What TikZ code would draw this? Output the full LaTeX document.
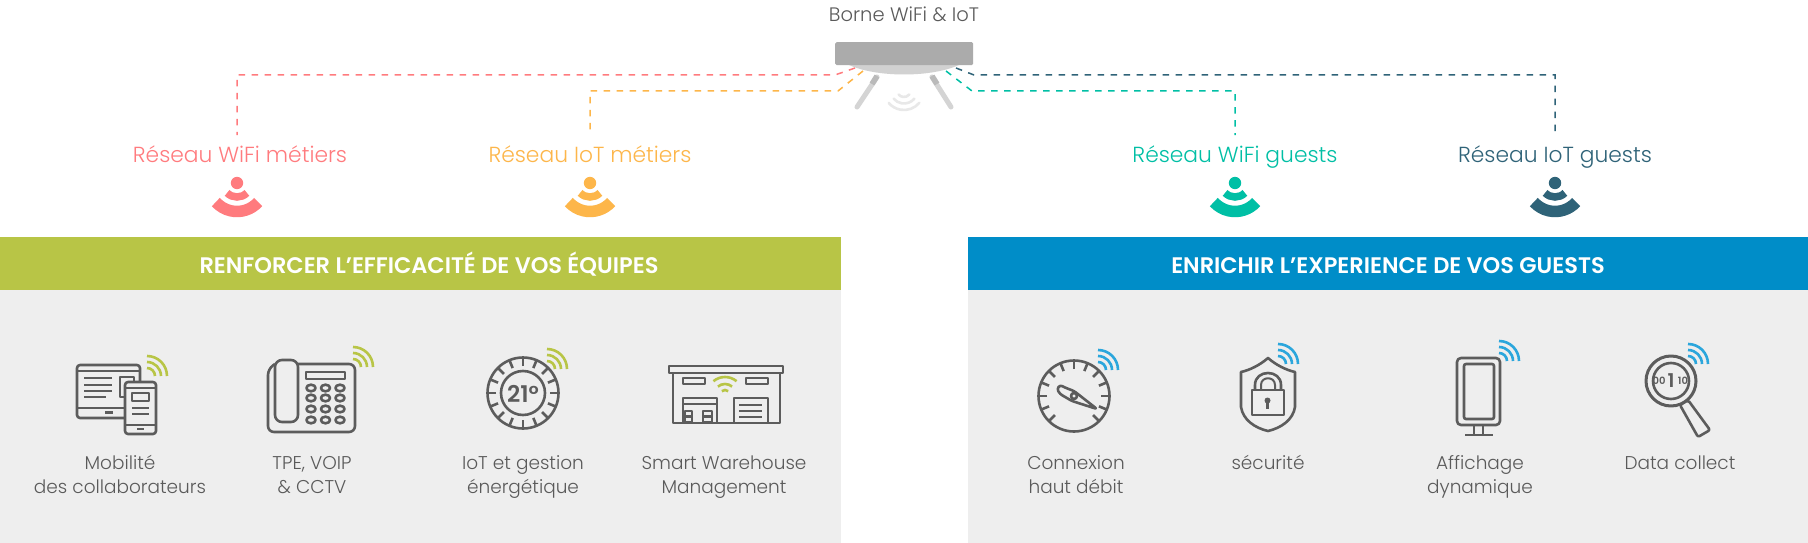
\documentclass[tikz,border=0pt]{standalone}
\usepackage{fontspec}
\setmainfont{Poppins}[UprightFont=* Light,BoldFont=* SemiBold]
\definecolor{cpink}{HTML}{FF7B7E}
\definecolor{corange}{HTML}{FDB64A}
\definecolor{cteal}{HTML}{00BFA5}
\definecolor{cdark}{HTML}{2F6378}
\definecolor{cgreen}{HTML}{B8C546}
\definecolor{cblue}{HTML}{008DC8}
\definecolor{cwifi}{HTML}{2BA6DC}
\definecolor{cpanel}{HTML}{EEEEEE}
\definecolor{ctext}{HTML}{5A5A5A}
\definecolor{cicon}{HTML}{5C5C5C}
\tikzset{
 x=1pt,y=-1pt,
 dashline/.style={line width=1.5pt,dash pattern=on 6.5pt off 6.5pt},
 netlabel/.style={font=\fontsize{21.8}{24}\selectfont,anchor=base,inner sep=0pt},
 itemlabel/.style={font=\fontsize{18.5}{24}\selectfont,text=ctext,align=center,anchor=base,inner sep=0pt},
 bandlabel/.style={font=\fontsize{22.5}{24}\selectfont\bfseries,text=white,anchor=base,inner sep=0pt},
 ic/.style={draw=cicon,line width=2.6pt,line join=round},
 tk/.style={draw=cicon,line width=2.6pt},
 wf/.style={line width=2.6pt},
}
\newcommand{\minew}[3]{% small quarter wifi
 \foreach \r in {8,14,20}{\draw[wf,#3] (#1,#2)++(0:\r) arc[start angle=0,end angle=-90,radius=\r];}}
\newcommand{\bigwifi}[3]{% network marker
 \fill[#3] (#1,#2) circle (6.2);
 \draw[#3,line width=7.5pt] (#1,#2)++(45:14) arc[start angle=45,end angle=135,radius=14];
 \draw[#3,line width=11.5pt] (#1,#2)++(42:28.5) arc[start angle=42,end angle=138,radius=28.5];}
\begin{document}
\begin{tikzpicture}
\useasboundingbox (0,0) rectangle (1808,543);
\fill[white] (0,0) rectangle (1808,543);
% panels
\fill[cpanel] (0,290) rectangle (841,543);
\fill[cpanel] (968,290) rectangle (1808,543);
\node[fill=cgreen,minimum width=841pt,minimum height=53pt,inner sep=0pt,anchor=north west] (bandL) at (0,237) {};
\node[fill=cblue,minimum width=840pt,minimum height=53pt,inner sep=0pt,anchor=north west] (bandR) at (968,237) {};
\node[bandlabel] (bandLt) at (429,273) {RENFORCER L’EFFICACITÉ DE VOS ÉQUIPES};
\node[bandlabel] (bandRt) at (1388,273) {ENRICHIR L’EXPERIENCE DE VOS GUESTS};
% device
\node[itemlabel,font=\fontsize{19.5}{22}\selectfont] (borne) at (904,22) {Borne WiFi \& IoT};
\draw[line width=5pt,line cap=round,color=black!17] (877,77) -- (857,107);
\draw[line width=5pt,line cap=round,color=black!17] (932,77) -- (951,107);
\draw[line width=5.5pt,color=black!27] (877,76) -- (872,84);
\draw[line width=5.5pt,color=black!27] (932,76) -- (937,84);
\fill[black!18] (847,64) .. controls (875,78) and (933,78) .. (961,64) -- cycle;
\node[fill=black!33,rounded corners=1.5pt,minimum width=138pt,minimum height=23pt,inner sep=0pt,anchor=north west] (device) at (835,42) {};
\foreach \r in {7,13.5,20}{\draw[black!9,line width=2.6pt,line cap=round] (904,90)++(40:\r) arc[start angle=40,end angle=140,radius=\r];}
% labels
\node[netlabel,text=cpink] (lpink) at (240,162) {Réseau WiFi métiers};
\node[netlabel,text=corange] (lorange) at (590,162) {Réseau IoT métiers};
\node[netlabel,text=cteal] (lteal) at (1235,162) {Réseau WiFi guests};
\node[netlabel,text=cdark] (ldark) at (1555,162) {Réseau IoT guests};
% connectors
\coordinate (pA) at (855,68); \coordinate (pB) at (835,75); \coordinate (pC) at (237,75); \coordinate (pD) at (237,135);
\coordinate (oA) at (863,71); \coordinate (oB) at (838,91); \coordinate (oC) at (590,91); \coordinate (oD) at (590,135);
\coordinate (tA) at (946,71); \coordinate (tB) at (972,91); \coordinate (tC) at (1235,91); \coordinate (tD) at (1235,135);
\coordinate (dA) at (956,68); \coordinate (dB) at (974,75); \coordinate (dC) at (1555,75); \coordinate (dD) at (1555,135);
\draw[dashline,cpink] (pA) -- (pB) -- (pC) -- (pD);
\draw[dashline,corange] (oA) -- (oB) -- (oC) -- (oD);
\draw[dashline,cteal] (tA) -- (tB) -- (tC) -- (tD);
\draw[dashline,cdark] (dA) -- (dB) -- (dC) -- (dD);
\bigwifi{237}{183}{cpink}
\bigwifi{590}{183}{corange}
\bigwifi{1235}{183}{cteal}
\bigwifi{1555}{183}{cdark}
% --- mobility
\draw[ic,rounded corners=3pt] (77,365) rectangle (140,418);
\draw[ic] (77,371) -- (140,371) (77,408) -- (125,408);
\draw[ic] (105,412.5) -- (113,412.5);
\draw[ic] (84,378) -- (112,378) (84,385) -- (112,385) (84,391) -- (112,391) (84,397) -- (106,397);
\draw[ic] (125,397) -- (120,397) -- (120,377) -- (134,377) -- (134,382);
\draw[ic,fill=cpanel,rounded corners=3pt] (125,382) rectangle (156,434);
\draw[ic] (125,388) -- (156,388) (125,425) -- (156,425);
\draw[ic] (137,429) -- (144,429);
\draw[ic] (132,393) rectangle (149,401);
\draw[ic] (132,408) -- (149,408) (132,414) -- (149,414);
\minew{147}{376}{cgreen}
\node[itemlabel] (t1) at (120,493) {Mobilité\\des collaborateurs};
% --- phone
\draw[ic,rounded corners=6pt] (275,364) -- (268,369) -- (268,432) -- (355,432) -- (355,364) -- (298,364);
\draw[ic,rounded corners=7pt] (275,360) rectangle (298,422);
\draw[ic] (306,372) rectangle (345,379);
\foreach \cx in {311,325.5,340}{\foreach \cy in {388,398,409,420}{\draw[ic] (\cx,\cy) ellipse (4.6 and 3.3);}}
\minew{353}{367}{cgreen}
\node[itemlabel] (t2) at (312,493) {TPE, VOIP\\\& CCTV};
% --- thermostat
\draw[ic] (523,393) circle (35.5);
\draw[ic] (523,393) circle (22);
\foreach \a in {0,22.5,...,337.5}{\draw[tk] (523,393)++(\a:27) -- ++(\a:8);}
\node[inner sep=0pt,text=cicon,font=\fontsize{23}{23}\selectfont\bfseries] (th) at (523,393.5) {21°};
\minew{547}{369}{cgreen}
\node[itemlabel] (t3) at (523,493) {IoT et gestion\\énergétique};
% --- warehouse
\draw[ic] (669,366) rectangle (783,373);
\draw[ic] (673,373) -- (673,423) -- (780,423) -- (780,373);
\draw[ic] (683,378) rectangle (705,384);
\draw[ic] (746,378) rectangle (768,384);
\foreach \r in {5,11,18}{\draw[wf,cgreen] (725,395)++(-50:\r) arc[start angle=-50,end angle=-130,radius=\r];}
\draw[ic] (683,423) -- (683,398) -- (717,398) -- (717,423);
\draw[ic] (683,404) -- (717,404);
\draw[ic] (685,411) rectangle (692,422);
\draw[ic] (685,416.5) -- (692,416.5);
\draw[ic] (703,411) rectangle (712,422);
\draw[ic] (703,416.5) -- (712,416.5);
\draw[ic] (734,423) -- (734,398) -- (768,398) -- (768,423);
\draw[ic] (739,405) -- (762,405) (739,411) -- (762,411) (739,417) -- (762,417);
\node[itemlabel] (t4) at (724,493) {Smart Warehouse\\Management};
% --- gauge
\draw[ic] (1074,396) circle (35.5);
\foreach \a in {-225,-202.5,...,45}{\draw[tk] (1074,396)++(\a:27) -- ++(\a:8);}
\draw[ic,rounded corners=2.5pt] (1060,385) -- (1066,388) -- (1074,391) -- (1097,409) -- (1072,401) -- (1060,394) -- (1057,389) -- cycle;
\draw[ic,fill=cpanel] (1074,396) circle (3);
\minew{1098}{370}{cwifi}
\node[itemlabel] (t5) at (1076,493) {Connexion\\haut débit};
% --- shield
\draw[ic] (1268,358) .. controls (1260,365) and (1250,370) .. (1241,372) -- (1241,407) .. controls (1243,420) and (1255,428) .. (1268,431) .. controls (1281,428) and (1293,420) .. (1295,407) -- (1295,372) .. controls (1286,370) and (1276,365) .. (1268,358) -- cycle;
\draw[ic] (1252,390) rectangle (1284,415);
\draw[ic] (1255,390) -- (1255,385) .. controls (1255,369) and (1281,369) .. (1281,385) -- (1281,390);
\draw[ic,line width=2pt] (1261,390) -- (1261,385) .. controls (1261,376) and (1275,376) .. (1275,385) -- (1275,390);
\fill[cicon] (1267.5,400.5) circle (3);
\draw[ic] (1267.5,401) -- (1267.5,409);
\minew{1278}{364}{cwifi}
\node[itemlabel] (t6) at (1268,469) {sécurité};
% --- display
\draw[ic,rounded corners=4pt] (1457,358) rectangle (1500,425);
\draw[ic,rounded corners=2pt] (1464,364) rectangle (1494,419);
\draw[ic] (1474,425) -- (1474,435) (1483,425) -- (1483,435);
\draw[ic] (1465,435) -- (1493,435);
\minew{1499}{361}{cwifi}
\node[itemlabel] (t7) at (1480,493) {Affichage\\dynamique};
% --- magnifier
\draw[ic,line width=3pt] (1671,381) circle (25);
\draw[ic,line width=2.6pt] (1671,381) circle (18);
\node[inner sep=0pt,text=cicon,font=\fontsize{10}{10}\selectfont\bfseries] (d1) at (1659,381) {00};
\node[inner sep=0pt,text=cicon,font=\fontsize{19}{19}\selectfont\bfseries] (d2) at (1671,381) {1};
\node[inner sep=0pt,text=cicon,font=\fontsize{10}{10}\selectfont\bfseries] (d3) at (1683,381) {10};
\draw[ic,rounded corners=2pt] (1680,405) -- (1688,400) -- (1710,430) -- (1698,437) -- cycle;
\minew{1688}{364}{cwifi}
\node[itemlabel] (t8) at (1680,469) {Data collect};
\end{tikzpicture}
\end{document}
